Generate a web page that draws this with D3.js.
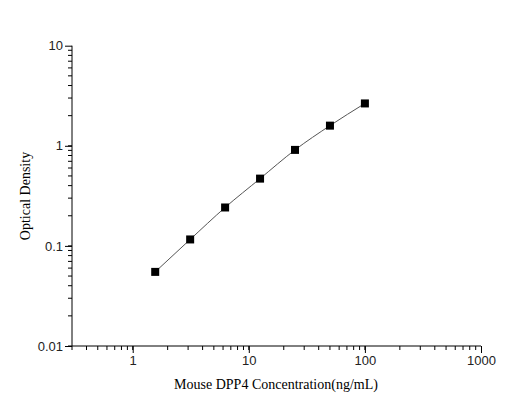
<!DOCTYPE html>
<html><head><meta charset="utf-8">
<script src="https://cdn.jsdelivr.net/npm/d3@7"></script>
<style>body{margin:0;background:#fff}</style></head>
<body><svg id="c" width="520" height="412"></svg>
<script>
const concentrations=[1.5625,3.125,6.25,12.5,25,50,100];
const od=[0.055,0.116,0.242,0.47,0.91,1.59,2.65];
const xTicks=[1,10,100,1000];
const yTicks=[0.01,0.1,1,10];
const svg=d3.select("#c");
const x=d3.scaleLog().domain([0.3,1000]).range([72,481]);
const y=d3.scaleLog().domain([0.01,10]).range([346,45.7]);
const minorX=[];for(let d=0.1;d<1000;d*=10)for(let k=1;k<10;k++){const v=d*k;if(v>=0.3&&v<=1000)minorX.push(v);}
const minorY=[];for(let d=0.01;d<10;d*=10)for(let k=1;k<10;k++)minorY.push(d*k);
const g=svg.append("g");
g.selectAll(".mx").data(minorX).join("line").attr("x1",d=>x(d)).attr("x2",d=>x(d)).attr("y1",346).attr("y2",350).attr("stroke","#000");
g.selectAll(".my").data(minorY).join("line").attr("y1",d=>y(d)).attr("y2",d=>y(d)).attr("x1",72).attr("x2",68).attr("stroke","#000");
svg.append("g").attr("transform","translate(0,346)").call(d3.axisBottom(x).tickValues(xTicks).tickFormat(d3.format("~g")).tickSize(7).tickPadding(3))
 .call(a=>a.selectAll("text").attr("font-family","Arial, Liberation Sans").attr("font-size",13).attr("fill","#222"))
 .call(a=>a.select(".domain").attr("d","M72,0H481"));
svg.append("g").attr("transform","translate(72,0)").call(d3.axisLeft(y).tickValues(yTicks).tickFormat(d3.format("~g")).tickSize(7).tickPadding(2))
 .call(a=>a.selectAll("text").attr("font-family","Arial, Liberation Sans").attr("font-size",13).attr("fill","#222"))
 .call(a=>a.select(".domain").attr("d","M0,346V45.7"));
svg.append("path").datum(concentrations.map((c,i)=>[c,od[i]])).attr("fill","none").attr("stroke","#555").attr("stroke-width",1)
 .attr("d",d3.line().x(d=>x(d[0])).y(d=>y(d[1])).curve(d3.curveMonotoneX));
svg.selectAll(".pt").data(concentrations).join("rect").attr("x",(d)=>x(d)-4).attr("y",(d,i)=>y(od[i])-4).attr("width",8).attr("height",8).attr("fill","#000");
svg.append("text").attr("x",276).attr("y",389).attr("text-anchor","middle").attr("font-family","Liberation Serif, Times New Roman").attr("font-size",14).text("Mouse DPP4 Concentration(ng/mL)");
svg.append("text").attr("transform","translate(30,196) rotate(-90)").attr("text-anchor","middle").attr("font-family","Liberation Serif, Times New Roman").attr("font-size",14).text("Optical Density");
</script></body></html>
